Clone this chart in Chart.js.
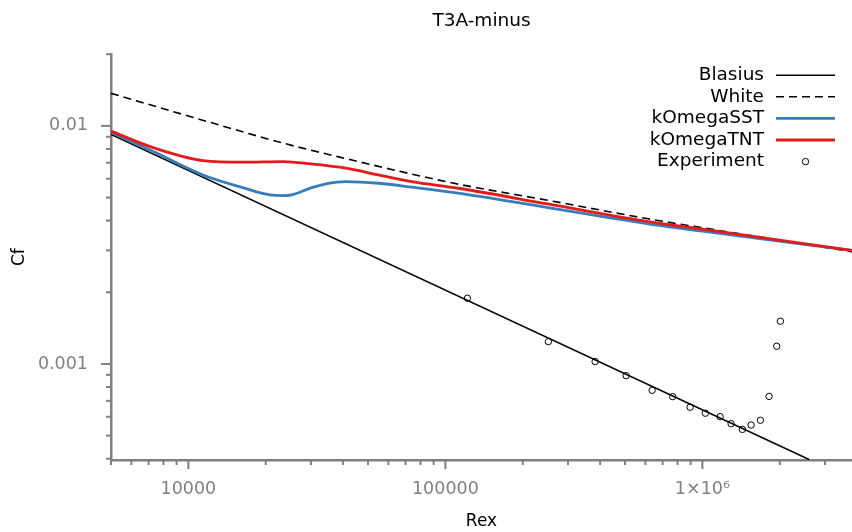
<!DOCTYPE html>
<html>
<head>
<meta charset="utf-8">
<script src="https://cdn.jsdelivr.net/npm/chart.js@4.4.1/dist/chart.umd.min.js"></script>
<style>
  body { margin: 0; background: #fff; }
  canvas { display: block; }
</style>
</head>
<body>
<canvas id="grafico" width="852" height="532"></canvas>
<script>
// valores (Rex, Cf)
const blasiusRe = [5000, 2600000]
const blasiusCf = [0.0092, 0.000397]

const whiteRe = [5000, 10000, 23400, 38400, 108000, 250000, 616000, 1500000, 3820000]
const whiteCf = [0.0137, 0.0110, 0.00846, 0.00741, 0.00574, 0.00487, 0.00407, 0.00348, 0.00296]

const sstRe = [5000, 7300, 11400, 16400, 20800, 23400, 25200, 30000, 35000, 41000, 55000, 74000, 112000, 250000, 616000, 1000000, 3820000]
const sstCf = [0.0094, 0.0078, 0.00622, 0.00549, 0.00513, 0.00509, 0.00513, 0.00549, 0.00574, 0.00583, 0.00574, 0.00553, 0.00522, 0.00454, 0.00388, 0.00361, 0.00300]

const tntRe = [5000, 7300, 11400, 16400, 23400, 30000, 41000, 55000, 74000, 112000, 250000, 616000, 1000000, 3820000]
const tntCf = [0.0095, 0.0081, 0.00715, 0.00704, 0.00708, 0.00692, 0.00664, 0.00622, 0.00583, 0.00547, 0.00470, 0.00396, 0.00368, 0.00300]

const expRe = [121800, 251600, 382400, 504900, 637400, 766300, 895800, 1027000, 1172000, 1293000, 1431000, 1547000, 1682000, 1817000, 1946000, 2011000]
const expCf = [0.001888, 0.001241, 0.001023, 0.000893, 0.000775, 0.000729, 0.000658, 0.000621, 0.000601, 0.000561, 0.000531, 0.000554, 0.000580, 0.000731, 0.001187, 0.001512]

// etiquetas de los ejes
const xTickValues = [10000, 100000, 1000000]
const xTickLabels = ["10000", "100000", "1×10⁶"]
const yTickValues = [0.01, 0.001]
const yTickLabels = ["0.01", "0.001"]

const gris = "#808080"
const fuente = "DejaVu Sans"

const puntos = (xs, ys) => xs.map((x, i) => ({ x: x, y: ys[i] }))

// marcas 1..9 por decada dentro del rango del eje
const marcasLog = (scale) => {
    const lista = []
    for (let e = -5; e <= 7; e++) {
        for (let m = 1; m <= 9; m++) {
            const v = m * Math.pow(10, e)
            if (v >= scale.min * 0.9999 && v <= scale.max * 1.0001) lista.push({ value: v })
        }
    }
    scale.ticks = lista
}

const esMayor = (v, valores) => valores.some(t => Math.abs(v / t - 1) < 1e-6)

const etiqueta = (v, valores, textos) => {
    const i = valores.findIndex(t => Math.abs(v / t - 1) < 1e-6)
    return i >= 0 ? textos[i] : ""
}

// rayitas de los ejes (mayores largas, menores cortas)
const rayitas = {
    id: "rayitas",
    afterDraw(chart) {
        const ctx = chart.ctx
        const sx = chart.scales.x
        const sy = chart.scales.y
        ctx.save()
        ctx.strokeStyle = gris
        ctx.lineWidth = 2
        sx.ticks.forEach(t => {
            const px = sx.getPixelForValue(t.value)
            const largo = esMayor(t.value, xTickValues) ? 9 : 5
            ctx.beginPath()
            ctx.moveTo(px, sx.top)
            ctx.lineTo(px, sx.top + largo)
            ctx.stroke()
        })
        sy.ticks.forEach(t => {
            const py = sy.getPixelForValue(t.value)
            const largo = esMayor(t.value, yTickValues) ? 10 : 5
            ctx.beginPath()
            ctx.moveTo(sy.right, py)
            ctx.lineTo(sy.right - largo, py)
            ctx.stroke()
        })
        ctx.restore()
    }
}

// leyenda arriba a la derecha, texto a la izquierda de la muestra
const leyenda = {
    id: "leyenda",
    afterDraw(chart) {
        const { ctx, chartArea } = chart
        const xTexto = chartArea.right - 88
        const x0 = chartArea.right - 76
        const x1 = chartArea.right - 17
        let y = chartArea.top + 21
        ctx.save()
        ctx.font = `18.5px "${fuente}"`
        ctx.textAlign = "right"
        ctx.textBaseline = "middle"
        chart.data.datasets.forEach(ds => {
            ctx.fillStyle = "#000"
            ctx.fillText(ds.label, xTexto, y)
            ctx.strokeStyle = ds.borderColor
            if (ds.showLine) {
                ctx.lineWidth = ds.borderWidth
                ctx.setLineDash(ds.borderDash || [])
                ctx.beginPath()
                ctx.moveTo(x0, y)
                ctx.lineTo(x1, y)
                ctx.stroke()
                ctx.setLineDash([])
            } else {
                ctx.lineWidth = ds.pointBorderWidth
                ctx.beginPath()
                ctx.arc((x0 + x1) / 2, y, ds.pointRadius, 0, Math.PI * 2)
                ctx.stroke()
            }
            y += 21.6
        })
        ctx.restore()
    }
}

const datasets = [
    {
        label: "Blasius",
        data: puntos(blasiusRe, blasiusCf),
        showLine: true,
        borderColor: "#000",
        borderWidth: 1.6,
        pointRadius: 0,
        order: 4
    },
    {
        label: "White",
        data: puntos(whiteRe, whiteCf),
        showLine: true,
        borderColor: "#000",
        borderWidth: 1.6,
        borderDash: [8, 5],
        pointRadius: 0,
        cubicInterpolationMode: "monotone",
        order: 3
    },
    {
        label: "kOmegaSST",
        data: puntos(sstRe, sstCf),
        showLine: true,
        borderColor: "#377eb8",
        borderWidth: 2.8,
        pointRadius: 0,
        cubicInterpolationMode: "monotone",
        order: 2
    },
    {
        label: "kOmegaTNT",
        data: puntos(tntRe, tntCf),
        showLine: true,
        borderColor: "#e41a1c",
        borderWidth: 2.8,
        pointRadius: 0,
        cubicInterpolationMode: "monotone",
        order: 1
    },
    {
        label: "Experiment",
        data: puntos(expRe, expCf),
        showLine: false,
        borderColor: "#000",
        backgroundColor: "rgba(0,0,0,0)",
        pointRadius: 3.2,
        pointBorderWidth: 1,
        pointBorderColor: "#000",
        pointBackgroundColor: "rgba(0,0,0,0)",
        order: 0
    }
]

const config = {
    type: "scatter",
    data: { datasets },
    options: {
        responsive: false,
        animation: false,
        devicePixelRatio: 1,
        layout: { padding: 0, autoPadding: false },
        plugins: {
            legend: { display: false },
            tooltip: { enabled: false },
            title: {
                display: true,
                text: "T3A-minus",
                fullSize: false,
                color: "#000",
                font: { family: fuente, size: 18.5, weight: "normal" },
                padding: { top: 10, bottom: 22 }
            }
        },
        scales: {
            x: {
                type: "logarithmic",
                min: 5000,
                max: 3820000,
                afterBuildTicks: marcasLog,
                afterFit: (scale) => {
                    scale.height = 72
                    scale.paddingLeft = 0
                    scale.paddingRight = 0
                },
                grid: { display: false, drawTicks: false },
                border: { display: true, color: gris, width: 2.5 },
                ticks: {
                    autoSkip: false,
                    maxRotation: 0,
                    padding: 19,
                    color: gris,
                    font: { family: fuente, size: 17.5 },
                    callback: (v) => etiqueta(v, xTickValues, xTickLabels)
                },
                title: {
                    display: true,
                    text: "Rex",
                    color: "#000",
                    font: { family: fuente, size: 17 },
                    padding: { top: 0, bottom: 0 }
                }
            },
            y: {
                type: "logarithmic",
                min: 0.000395,
                max: 0.02,
                afterBuildTicks: marcasLog,
                afterFit: (scale) => {
                    scale.width = 111
                    scale.paddingTop = 0
                    scale.paddingBottom = 0
                },
                grid: { display: false, drawTicks: false },
                border: { display: true, color: gris, width: 2.5 },
                ticks: {
                    autoSkip: false,
                    padding: 23,
                    color: gris,
                    font: { family: fuente, size: 17.5 },
                    callback: (v) => etiqueta(v, yTickValues, yTickLabels)
                },
                title: {
                    display: true,
                    text: "Cf",
                    color: "#000",
                    font: { family: fuente, size: 17 },
                    padding: { top: 9, bottom: 0 }
                }
            }
        }
    },
    plugins: [rayitas, leyenda]
}

const grafico = new Chart(document.getElementById("grafico"), config)
</script>
</body>
</html>
